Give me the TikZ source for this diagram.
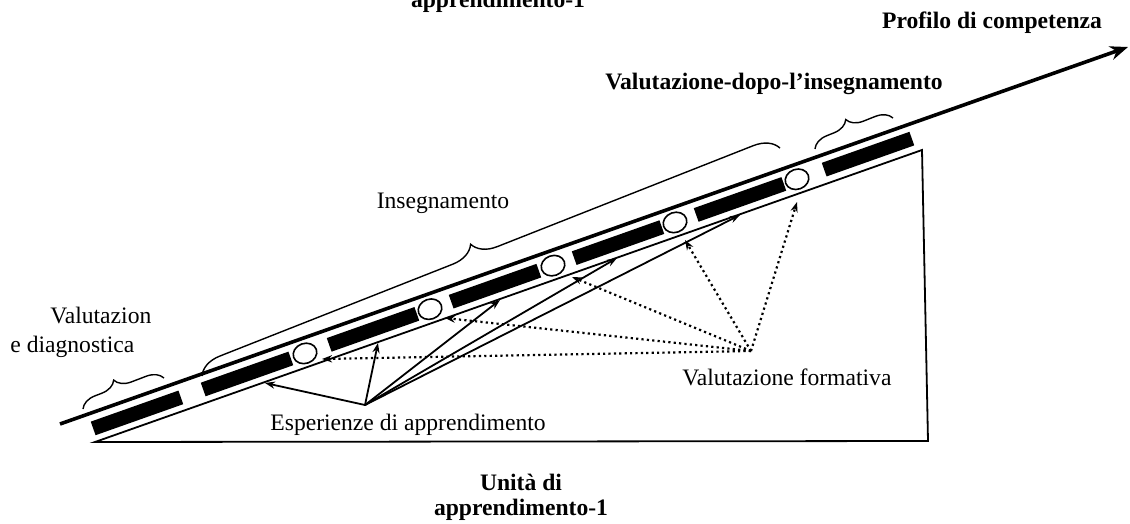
\documentclass[tikz,border=0pt]{standalone}
\usepackage{fontspec}
\setmainfont{Liberation Serif}
\usetikzlibrary{arrows.meta, decorations.pathreplacing, shapes.geometric}
\tikzstyle{bar} = [rectangle, fill=black, inner sep=0pt,
                 minimum width=46.5pt, minimum height=7.2pt, rotate=19.5]
\tikzstyle{hole} = [ellipse, draw, fill=white, line width=0.8pt, inner sep=0pt,
                 minimum width=12pt, minimum height=10pt, rotate=19.5]
\tikzstyle{txt} = [inner sep=0pt, font=\fontsize{11.8pt}{14pt}\selectfont]
\tikzstyle{btxt} = [inner sep=0pt, font=\fontsize{11.8pt}{14pt}\selectfont\bfseries]
\tikzstyle{flow} = [line width=0.9pt, -{Stealth[length=5pt, width=3.6pt]}]
\tikzstyle{check} = [flow, line width=1.1pt, dash pattern=on 1.1pt off 1.6pt]
\tikzstyle{curly} = [decorate, decoration={brace, amplitude=8pt}, line width=0.7pt]

\begin{document}
\begin{tikzpicture}[x=0.5pt, y=-0.5pt]
\useasboundingbox (0,0) rectangle (1130,524);

% triangle
\coordinate (tl) at (95,442);
\coordinate (tt) at (922,150);
\coordinate (tr) at (928,441);
\draw [line width=0.9pt] (tl) -- (tt) -- (tr) -- cycle;

% competence axis
\coordinate (a0) at (60,424);
\coordinate (a1) at (1128,47);
\draw [line width=1.8pt, -{Stealth[length=9pt, width=7pt]}] (a0) -- (a1);

% units and checks
\foreach \x [count=\i] in {137,247,373,495,618,740,868}
	\node [bar] (bar\i) at (\x,{461.4-0.354*\x}) {};
\foreach \x [count=\i] in {305,430,553,675,797}
	\node [hole] (hole\i) at (\x,{461.4-0.354*\x}) {};

% braces
\draw [curly, decoration={aspect=0.45}] (83,409) -- (164,378);
\draw [curly, decoration={amplitude=12pt, aspect=0.48}] (202,376) -- (780,148);
\draw [curly, decoration={aspect=0.47}] (815,149) -- (893,118);

% labels
\node [btxt, anchor=base] (topcap) at (498,8) {apprendimento-1};
\node [btxt, anchor=base] (profilo) at (992,29) {Profilo di competenza};
\node [btxt, anchor=base] (dopo) at (774,90) {Valutazione-dopo-l’insegnamento};
\node [txt, anchor=base] (ins) at (443,208) {Insegnamento};
\node [txt, anchor=base west] (diag1) at (50,323) {Valutazion};
\node [txt, anchor=base west] (diag2) at (10,352) {e diagnostica};
\node [txt, anchor=base west] (esp) at (270,430) {Esperienze di apprendimento};
\node [txt, anchor=base west] (form) at (682,385) {Valutazione formativa};
\node [btxt, anchor=base] (unita) at (521,490) {Unità di};
\node [btxt, anchor=base] (unita2) at (521,515) {apprendimento-1};

% arrows
\coordinate (es) at (365,405);
\coordinate (fs) at (751,351);
\foreach \i/\x/\y in {1/265/383, 2/378/343, 3/500/300, 4/617/258, 5/740/215}
	\coordinate (e\i) at (\x,\y);
\foreach \i/\x/\y in {1/322/359, 2/445/318, 3/572/277, 4/685/240, 5/797/202}
	\coordinate (f\i) at (\x,\y);
\foreach \i in {1,...,5}
	\draw [flow] (es) -- (e\i);
\foreach \i in {1,...,5}
	\draw [check] (fs) -- (f\i);

\end{tikzpicture}
\end{document}
